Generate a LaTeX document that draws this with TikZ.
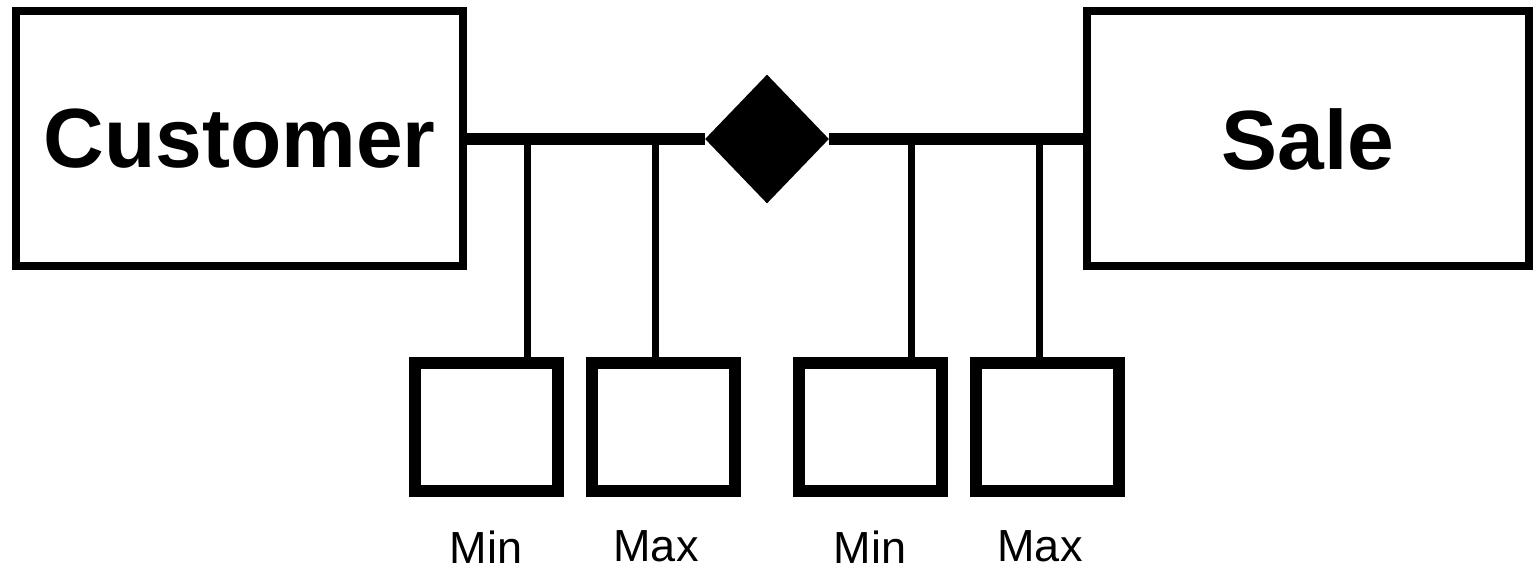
\documentclass[tikz,border=0pt]{standalone}
\usepackage{fontspec}
\setmainfont{Liberation Sans}
\usetikzlibrary{shapes.geometric}

\begin{document}
\begin{tikzpicture}[
    ent/.style={draw, line width=0.16cm, inner sep=0pt,
                minimum width=8.9cm, minimum height=5.1cm,
                font=\fontsize{47.8}{57}\selectfont\bfseries},
    rel/.style={diamond, fill=black, inner sep=0pt,
                minimum width=2.48cm, minimum height=2.58cm},
    card/.style={draw, line width=0.24cm, inner sep=0pt,
                 minimum width=2.86cm, minimum height=2.56cm},
    lbl/.style={anchor=base, inner sep=0pt, font=\fontsize{25.6}{30}\selectfont},
    lnk/.style={line width=0.25cm},
    pata/.style={line width=0.14cm}]
    \useasboundingbox (0,0) rectangle (30.66,11.32);
    \node[ent, minimum width=8.94cm] (cust) at (4.79,8.54)  {Customer};
    \node[ent, minimum width=8.84cm] (sale) at (26.16,8.54) {Sale};
    \node[rel] (rl) at (15.34,8.54) {};
    \draw[lnk] (cust.east) -- (rl.west);
    \draw[lnk] (rl.east) -- (sale.west);
    \node[card] (m1) at (9.73,2.78)  {};
    \node[card] (m2) at (13.26,2.78) {};
    \node[card] (m3) at (17.41,2.78) {};
    \node[card] (m4) at (20.94,2.78) {};
    \coordinate (j1) at (10.55,8.54);
    \coordinate (j2) at (13.10,8.54);
    \coordinate (j3) at (18.22,8.54);
    \coordinate (j4) at (20.78,8.54);
    \draw[pata] (j1) -- (j1 |- m1.north);
    \draw[pata] (j2) -- (j2 |- m2.north);
    \draw[pata] (j3) -- (j3 |- m3.north);
    \draw[pata] (j4) -- (j4 |- m4.north);
    \node[lbl] (t1) at (9.72,0.04)  {Min};
    \node[lbl] (t2) at (13.12,0.08) {Max};
    \node[lbl] (t3) at (17.40,0.04) {Min};
    \node[lbl] (t4) at (20.80,0.08) {Max};
\end{tikzpicture}
\end{document}
